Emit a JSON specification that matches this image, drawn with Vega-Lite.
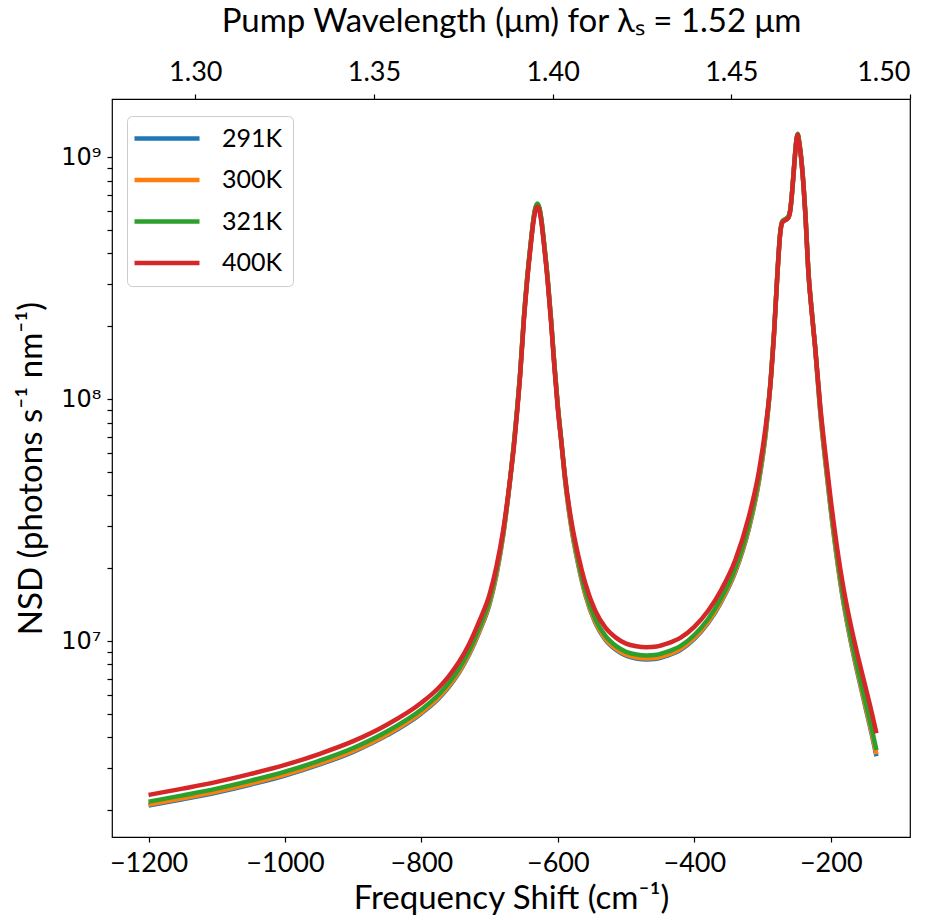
{
  "$schema": "https://vega.github.io/schema/vega-lite/v6.json",
  "width": 798,
  "height": 738,
  "autosize": {"type": "none"},
  "padding": {"left": 112, "top": 99, "right": 27, "bottom": 83},
  "background": "white",
  "config": {
    "view": {"stroke": "black", "strokeWidth": 1.2},
    "axis": {
      "grid": false, "domain": false, "tickColor": "black", "tickSize": 5, "tickWidth": 1.2,
      "labelColor": "black", "titleColor": "black", "labelFont": "Lato", "titleFont": "Lato",
      "labelFontSize": 27, "titleFontSize": 33, "titleFontWeight": "normal"
    }
  },
  "datasets": {
    "main": [
      {"s": -1200, "291K": 2.090e6, "300K": 2.109e6, "321K": 2.168e6, "400K": 2.312e6},
      {"s": -1150, "291K": 2.219e6, "300K": 2.239e6, "321K": 2.302e6, "400K": 2.455e6},
      {"s": -1100, "291K": 2.366e6, "300K": 2.388e6, "321K": 2.455e6, "400K": 2.618e6},
      {"s": -1050, "291K": 2.553e6, "300K": 2.577e6, "321K": 2.649e6, "400K": 2.825e6},
      {"s": -1000, "291K": 2.780e6, "300K": 2.805e6, "321K": 2.884e6, "400K": 3.076e6},
      {"s": -950, "291K": 3.083e6, "300K": 3.112e6, "321K": 3.199e6, "400K": 3.412e6},
      {"s": -900, "291K": 3.483e6, "300K": 3.515e6, "321K": 3.614e6, "400K": 3.855e6},
      {"s": -850, "291K": 4.084e6, "300K": 4.121e6, "321K": 4.237e6, "400K": 4.519e6},
      {"s": -800, "291K": 5.023e6, "300K": 5.070e6, "321K": 5.212e6, "400K": 5.559e6},
      {"s": -775, "291K": 5.781e6, "300K": 5.834e6, "321K": 5.998e6, "400K": 6.397e6},
      {"s": -760, "291K": 6.457e6, "300K": 6.516e6, "321K": 6.699e6, "400K": 7.145e6},
      {"s": -745, "291K": 7.396e6, "300K": 7.465e6, "321K": 7.674e6, "400K": 8.185e6},
      {"s": -730, "291K": 8.790e6, "300K": 8.871e6, "321K": 9.120e6, "400K": 9.727e6},
      {"s": -715, "291K": 1.094e7, "300K": 1.104e7, "321K": 1.135e7, "400K": 1.211e7},
      {"s": -700, "291K": 1.425e7, "300K": 1.439e7, "321K": 1.479e7, "400K": 1.563e7},
      {"s": -690, "291K": 1.879e7, "300K": 1.897e7, "321K": 1.950e7, "400K": 2.032e7},
      {"s": -680, "291K": 2.753e7, "300K": 2.762e7, "321K": 2.818e7, "400K": 2.884e7},
      {"s": -670, "291K": 4.634e7, "300K": 4.645e7, "321K": 4.677e7, "400K": 4.677e7},
      {"s": -665, "291K": 6.252e7, "300K": 6.266e7, "321K": 6.310e7, "400K": 6.138e7},
      {"s": -660, "291K": 8.831e7, "300K": 8.852e7, "321K": 8.913e7, "400K": 8.670e7},
      {"s": -655, "291K": 1.306e8, "300K": 1.309e8, "321K": 1.318e8, "400K": 1.282e8},
      {"s": -650, "291K": 2.118e8, "300K": 2.123e8, "321K": 2.138e8, "400K": 2.080e8},
      {"s": -645, "291K": 3.133e8, "300K": 3.140e8, "321K": 3.162e8, "400K": 3.076e8},
      {"s": -640, "291K": 4.325e8, "300K": 4.335e8, "321K": 4.365e8, "400K": 4.246e8},
      {"s": -636, "291K": 5.444e8, "300K": 5.457e8, "321K": 5.495e8, "400K": 5.345e8},
      {"s": -633, "291K": 6.109e8, "300K": 6.123e8, "321K": 6.166e8, "400K": 5.998e8},
      {"s": -630, "291K": 6.369e8, "300K": 6.384e8, "321K": 6.428e8, "400K": 6.253e8},
      {"s": -627, "291K": 6.109e8, "300K": 6.123e8, "321K": 6.166e8, "400K": 5.998e8},
      {"s": -624, "291K": 5.444e8, "300K": 5.457e8, "321K": 5.495e8, "400K": 5.345e8},
      {"s": -620, "291K": 4.325e8, "300K": 4.335e8, "321K": 4.365e8, "400K": 4.246e8},
      {"s": -615, "291K": 3.133e8, "300K": 3.140e8, "321K": 3.162e8, "400K": 3.076e8},
      {"s": -610, "291K": 2.118e8, "300K": 2.123e8, "321K": 2.138e8, "400K": 2.080e8},
      {"s": -605, "291K": 1.367e8, "300K": 1.370e8, "321K": 1.380e8, "400K": 1.342e8},
      {"s": -600, "291K": 9.247e7, "300K": 9.269e7, "321K": 9.333e7, "400K": 9.078e7},
      {"s": -595, "291K": 6.699e7, "300K": 6.714e7, "321K": 6.761e7, "400K": 6.684e7},
      {"s": -590, "291K": 4.785e7, "300K": 4.800e7, "321K": 4.898e7, "400K": 4.898e7},
      {"s": -580, "291K": 2.911e7, "300K": 2.938e7, "321K": 3.020e7, "400K": 3.105e7},
      {"s": -570, "291K": 2.061e7, "300K": 2.080e7, "321K": 2.138e7, "400K": 2.249e7},
      {"s": -560, "291K": 1.563e7, "300K": 1.578e7, "321K": 1.622e7, "400K": 1.738e7},
      {"s": -545, "291K": 1.185e7, "300K": 1.196e7, "321K": 1.230e7, "400K": 1.330e7},
      {"s": -530, "291K": 1.009e7, "300K": 1.018e7, "321K": 1.047e7, "400K": 1.132e7},
      {"s": -515, "291K": 9.204e6, "300K": 9.289e6, "321K": 9.550e6, "400K": 1.033e7},
      {"s": -500, "291K": 8.691e6, "300K": 8.771e6, "321K": 9.017e6, "400K": 9.751e6},
      {"s": -485, "291K": 8.473e6, "300K": 8.551e6, "321K": 8.791e6, "400K": 9.507e6},
      {"s": -470, "291K": 8.395e6, "300K": 8.472e6, "321K": 8.710e6, "400K": 9.419e6},
      {"s": -455, "291K": 8.453e6, "300K": 8.532e6, "321K": 8.771e6, "400K": 9.485e6},
      {"s": -440, "291K": 8.691e6, "300K": 8.771e6, "321K": 9.017e6, "400K": 9.751e6},
      {"s": -420, "291K": 9.204e6, "300K": 9.289e6, "321K": 9.550e6, "400K": 1.033e7},
      {"s": -400, "291K": 1.021e7, "300K": 1.030e7, "321K": 1.059e7, "400K": 1.145e7},
      {"s": -380, "291K": 1.185e7, "300K": 1.196e7, "321K": 1.230e7, "400K": 1.330e7},
      {"s": -360, "291K": 1.459e7, "300K": 1.473e7, "321K": 1.514e7, "400K": 1.637e7},
      {"s": -340, "291K": 1.923e7, "300K": 1.941e7, "321K": 1.995e7, "400K": 2.157e7},
      {"s": -320, "291K": 2.911e7, "300K": 2.938e7, "321K": 3.020e7, "400K": 3.266e7},
      {"s": -305, "291K": 4.613e7, "300K": 4.655e7, "321K": 4.786e7, "400K": 5.070e7},
      {"s": -295, "291K": 7.311e7, "300K": 7.379e7, "321K": 7.586e7, "400K": 7.852e7},
      {"s": -288, "291K": 1.191e8, "300K": 1.194e8, "321K": 1.202e8, "400K": 1.188e8},
      {"s": -283, "291K": 1.887e8, "300K": 1.892e8, "321K": 1.905e8, "400K": 1.883e8},
      {"s": -278, "291K": 3.357e8, "300K": 3.365e8, "321K": 3.388e8, "400K": 3.349e8},
      {"s": -274, "291K": 4.853e8, "300K": 4.864e8, "321K": 4.898e8, "400K": 4.842e8},
      {"s": -271, "291K": 5.383e8, "300K": 5.396e8, "321K": 5.433e8, "400K": 5.371e8},
      {"s": -266, "291K": 5.508e8, "300K": 5.521e8, "321K": 5.559e8, "400K": 5.496e8},
      {"s": -262, "291K": 5.637e8, "300K": 5.650e8, "321K": 5.689e8, "400K": 5.624e8},
      {"s": -259, "291K": 6.109e8, "300K": 6.123e8, "321K": 6.166e8, "400K": 6.096e8},
      {"s": -256, "291K": 7.516e8, "300K": 7.534e8, "321K": 7.586e8, "400K": 7.500e8},
      {"s": -253, "291K": 9.682e8, "300K": 9.705e8, "321K": 9.772e8, "400K": 9.661e8},
      {"s": -250, "291K": 1.191e9, "300K": 1.194e9, "321K": 1.202e9, "400K": 1.188e9},
      {"s": -248.5, "291K": 1.239e9, "300K": 1.241e9, "321K": 1.250e9, "400K": 1.236e9},
      {"s": -246, "291K": 1.137e9, "300K": 1.140e9, "321K": 1.148e9, "400K": 1.135e9},
      {"s": -243, "291K": 9.682e8, "300K": 9.705e8, "321K": 9.772e8, "400K": 9.661e8},
      {"s": -240, "291K": 7.691e8, "300K": 7.708e8, "321K": 7.762e8, "400K": 7.673e8},
      {"s": -237, "291K": 5.701e8, "300K": 5.714e8, "321K": 5.754e8, "400K": 5.688e8},
      {"s": -233, "291K": 3.435e8, "300K": 3.443e8, "321K": 3.467e8, "400K": 3.427e8},
      {"s": -228, "291K": 2.322e8, "300K": 2.328e8, "321K": 2.344e8, "400K": 2.317e8},
      {"s": -223, "291K": 1.645e8, "300K": 1.649e8, "321K": 1.660e8, "400K": 1.660e8},
      {"s": -215, "291K": 8.590e7, "300K": 8.670e7, "321K": 8.913e7, "400K": 9.121e7},
      {"s": -208, "291K": 5.533e7, "300K": 5.584e7, "321K": 5.754e7, "400K": 5.997e7},
      {"s": -200, "291K": 3.484e7, "300K": 3.524e7, "321K": 3.631e7, "400K": 3.846e7},
      {"s": -190, "291K": 2.094e7, "300K": 2.119e7, "321K": 2.188e7, "400K": 2.361e7},
      {"s": -182, "291K": 1.479e7, "300K": 1.500e7, "321K": 1.549e7, "400K": 1.698e7},
      {"s": -170, "291K": 9.747e6, "300K": 9.883e6, "321K": 1.023e7, "400K": 1.143e7},
      {"s": -160, "291K": 7.211e6, "300K": 7.329e6, "321K": 7.586e6, "400K": 8.610e6},
      {"s": -150, "291K": 5.457e6, "300K": 5.546e6, "321K": 5.754e6, "400K": 6.622e6},
      {"s": -140, "291K": 4.130e6, "300K": 4.207e6, "321K": 4.365e6, "400K": 5.081e6},
      {"s": -133, "291K": 3.342e6, "300K": 3.404e6, "321K": 3.540e6, "400K": 4.159e6}
    ],
    "top": [{"w": 1.30}, {"w": 1.50}]
  },
  "layer": [
    {
      "data": {"name": "main"},
      "transform": [{"fold": ["291K", "300K", "321K", "400K"], "as": ["series", "value"]}],
      "mark": {"type": "line", "strokeWidth": 4.5, "interpolate": "monotone"},
      "encoding": {
        "x": {
          "field": "s", "type": "quantitative",
          "scale": {"domain": [-1253.6, -83.8], "nice": false, "zero": false},
          "axis": {"orient": "bottom", "values": [-1200, -1000, -800, -600, -400, -200], "format": "d", "title": "Frequency Shift (cm⁻¹)", "labelPadding": 8, "titlePadding": 6}
        },
        "y": {
          "field": "value", "type": "quantitative",
          "scale": {"type": "log", "domain": [1.549e6, 1.738e9], "nice": false},
          "axis": {
            "values": [2e6, 3e6, 4e6, 5e6, 6e6, 7e6, 8e6, 9e6, 1e7, 2e7, 3e7, 4e7, 5e7, 6e7, 7e7, 8e7, 9e7, 1e8, 2e8, 3e8, 4e8, 5e8, 6e8, 7e8, 8e8, 9e8, 1e9],
            "labelExpr": "datum.value == 1e7 ? '10⁷' : datum.value == 1e8 ? '10⁸' : datum.value == 1e9 ? '10⁹' : ''",
            "labelFont": "DejaVu Sans", "labelFontSize": 24, "labelPadding": 6,
            "title": "NSD (photons s⁻¹ nm⁻¹)", "titlePadding": 12,
            "encode": {"ticks": {"update": {"x2": {"signal": "indexof([10000000, 100000000, 1000000000], datum.value) >= 0 ? -5 : -3"}}}}
          }
        },
        "color": {
          "field": "series", "type": "nominal",
          "scale": {"domain": ["291K", "300K", "321K", "400K"], "range": ["#1f77b4", "#ff7f0e", "#2ca02c", "#d62728"]},
          "legend": {
            "title": null, "orient": "none", "legendX": 15, "legendY": 17,
            "symbolType": "M-3,0H10", "symbolSize": 100, "symbolStrokeWidth": 4.5,
            "labelFont": "Lato", "labelFontSize": 25, "labelColor": "black", "labelOffset": 60,
            "rowPadding": 15.5, "padding": 10, "strokeColor": "#cccccc", "fillColor": "white", "cornerRadius": 5
          }
        }
      }
    },
    {
      "data": {"name": "top"},
      "mark": {"type": "point", "opacity": 0},
      "encoding": {
        "x": {
          "field": "w", "type": "quantitative",
          "scale": {"domain": [1.2767, 1.5], "nice": false, "zero": false},
          "axis": {"orient": "top", "values": [1.30, 1.35, 1.40, 1.45, 1.50], "format": ".2f", "title": "Pump Wavelength (μm) for λₛ = 1.52 μm", "labelPadding": 8, "titlePadding": 20}
        }
      }
    }
  ],
  "resolve": {"scale": {"x": "independent"}, "axis": {"x": "independent"}}
}
